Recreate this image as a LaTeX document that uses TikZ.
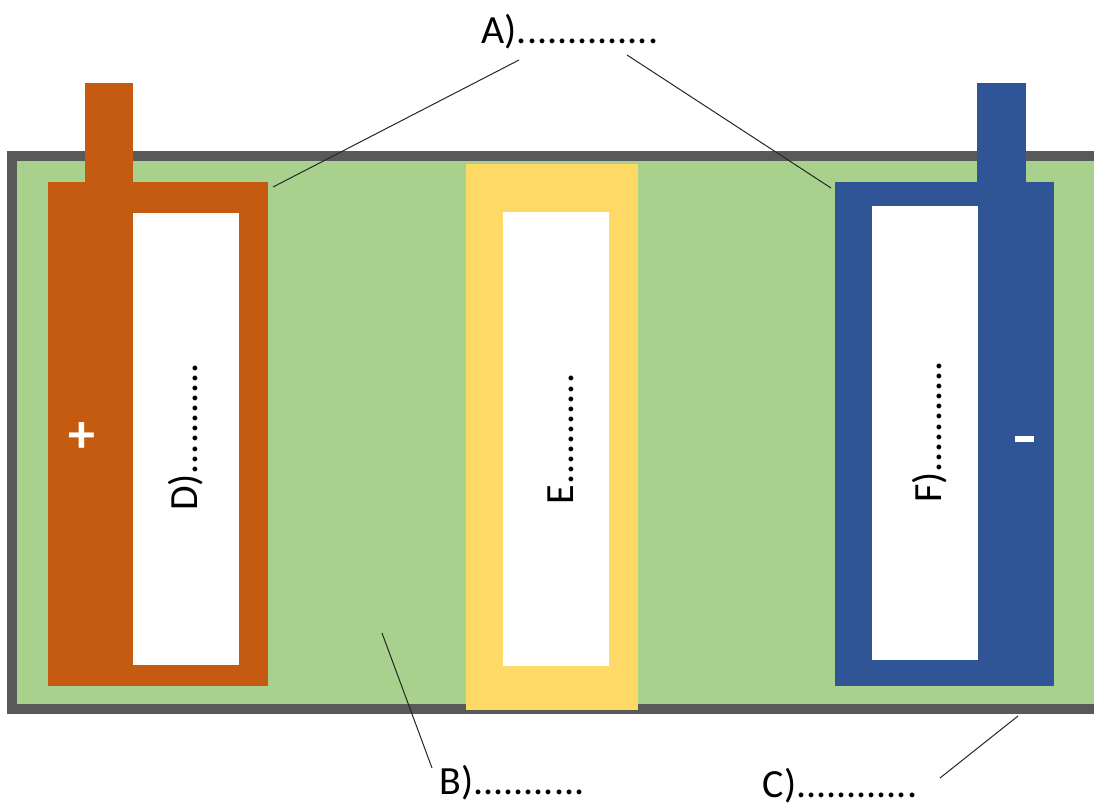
\documentclass[tikz,border=0pt]{standalone}
\usepackage{fontspec}
\setmainfont{Carlito}
\definecolor{frame}{HTML}{595959}
\definecolor{elec}{HTML}{A9D18E}
\definecolor{cath}{HTML}{C55A11}
\definecolor{anod}{HTML}{2F5597}
\definecolor{sep}{HTML}{FFD966}
\tikzset{
  lbl/.style={inner sep=0pt, font=\fontsize{40}{46}\selectfont, text=black},
  sym/.style={inner sep=0pt, font=\bfseries\fontsize{54}{60}\selectfont, text=white},
  leader/.style={draw=black!85, line width=1pt},
}
\begin{document}
\begin{tikzpicture}[x=1pt,y=-1pt]
\useasboundingbox (0,0) rectangle (1094,807);
% container and electrolyte
\fill[frame] (7,151) rectangle (1094,714);
\fill[elec] (17,161) rectangle (1094,704);
% positive electrode
\fill[cath] (48,182) rectangle (268,686);
\fill[cath] (85,83) rectangle (133,183);
\fill[white] (133,213) rectangle (239,665);
% separator
\fill[sep] (466,164) rectangle (638,710);
\fill[white] (503,212) rectangle (609,666);
% negative electrode
\fill[anod] (835,182) rectangle (1054,686);
\fill[anod] (977,83) rectangle (1026,183);
\fill[white] (872,206) rectangle (978,660);
% labels
\node[lbl] (A) at (570,32) {A)..............};
\node[lbl] (B) at (512,783) {B)...........};
\node[lbl] (C) at (840,786) {C)............};
\node[lbl,rotate=90] (D) at (186,437) {D)...........};
\node[lbl,rotate=90] (E) at (561,439) {E...........};
\node[lbl,rotate=90] (F) at (930,432) {F)...........};
\node[sym] (plus) at (82,438) {+};
\node[inner sep=0pt, minimum width=19pt, minimum height=6pt, fill=white] (minus) at (1024,439) {};
% leader coordinates
\coordinate (a1) at (519,60);
\coordinate (a1e) at (273,187);
\coordinate (a2) at (627,55);
\coordinate (a2e) at (831,188);
\coordinate (b1) at (432,768);
\coordinate (b1e) at (382,633);
\coordinate (c1) at (940,778);
\coordinate (c1e) at (1018,716);
\draw[leader] (a1) -- (a1e);
\draw[leader] (a2) -- (a2e);
\draw[leader] (b1) -- (b1e);
\draw[leader] (c1) -- (c1e);
\end{tikzpicture}
\end{document}
